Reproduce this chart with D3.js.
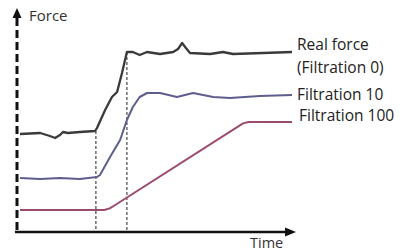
<!DOCTYPE html>
<html>
<head>
<meta charset="utf-8">
<script src="https://cdn.jsdelivr.net/npm/d3@7"></script>
<style>
  body { margin: 0; background: #fff; }
  svg { display: block; font-family: "Open Sans", sans-serif; }
</style>
</head>
<body>
<svg id="chart" width="400" height="252"></svg>
<script>
// values, time 0..100, force 0..100 (arbitrary units)
var realTime  = [0, 7.4, 11, 12.9, 14.7, 15.8, 17.6, 22, 27.6, 28.3, 31.3, 33.8, 35.7, 37.5, 39.3, 41.5, 44, 46.7, 51.5, 56.3, 58.1, 59.6, 61, 62.5, 69.9, 74.6, 78.3, 89.3, 100];
var realForce = [49, 49.5, 48, 47, 48.5, 50, 49.5, 50, 50.5, 52, 61, 67.5, 70, 79.5, 90, 90, 88.5, 90, 89, 90, 91.5, 94.5, 92, 89.5, 89, 90, 89, 89.5, 90];

var filt10Time  = [0, 7.4, 14.7, 22, 28.3, 29.4, 33.1, 36.8, 39.3, 41.5, 44, 46.7, 51.5, 57.7, 63.6, 71, 77.2, 88.2, 100];
var filt10Force = [27, 26.5, 27, 26.5, 27.5, 28.5, 37.5, 46, 56, 62.5, 67.5, 69.5, 69.5, 67.5, 69.5, 67.5, 67, 68, 68.5];

var filt100Time  = [0, 31, 33, 35, 82, 84, 100];
var filt100Force = [11, 11, 11.8, 13.5, 54.3, 55, 55];

var markerTimes = [27.9, 39.3];

// label lines and their baselines
var labelText = ["Real force", "(Filtration 0)", "Filtration 10", "Filtration 100"];
var labelBase = [50, 73, 100, 121];

var series = [
  { t: realTime, f: realForce, color: "#3a3a3a", w: 2.3 },
  { t: filt10Time, f: filt10Force, color: "#5e5e8e", w: 2 },
  { t: filt100Time, f: filt100Force, color: "#9b4a70", w: 2 }
];

var svg = d3.select("#chart");

var x = d3.scaleLinear().domain([0, 100]).range([20, 292]);
var y = d3.scaleLinear().domain([0, 100]).range([232, 32]);

// dashed guide lines at the step starts
svg.selectAll(".guide")
  .data(markerTimes)
  .enter()
  .append("line")
  .attr("class", "guide")
  .attr("x1", function(d){ return x(d); })
  .attr("x2", function(d){ return x(d); })
  .attr("y1", function(d){
    return y(d3.max(realTime.map(function(t, i){ return t <= d + 0.01 ? realForce[i] : 0; })));
  })
  .attr("y2", 232)
  .attr("stroke", "#555")
  .attr("stroke-width", 1.3)
  .attr("stroke-dasharray", "3,2");

var line = d3.line()
  .x(function(d){ return x(d[0]); })
  .y(function(d){ return y(d[1]); });

svg.selectAll(".series")
  .data(series)
  .enter()
  .append("path")
  .attr("class", "series")
  .attr("d", function(s){ return line(d3.zip(s.t, s.f)); })
  .attr("fill", "none")
  .attr("stroke", function(s){ return s.color; })
  .attr("stroke-width", function(s){ return s.w; })
  .attr("stroke-linejoin", "round");

// y axis: thick dashed line with arrow
svg.append("line")
  .attr("x1", 17).attr("x2", 17)
  .attr("y1", 18).attr("y2", 232)
  .attr("stroke", "#111")
  .attr("stroke-width", 3)
  .attr("stroke-dasharray", "8,4");
svg.append("path")
  .attr("d", "M17,8 L12.5,18 L21.5,18 Z")
  .attr("fill", "#111");

// x axis: solid line with arrow
svg.append("line")
  .attr("x1", 15).attr("x2", 288)
  .attr("y1", 232).attr("y2", 232)
  .attr("stroke", "#111")
  .attr("stroke-width", 2.5);
svg.append("path")
  .attr("d", "M296,232 L285,227.5 L285,236.5 Z")
  .attr("fill", "#111");

svg.append("text")
  .attr("x", 29).attr("y", 21)
  .attr("font-size", 15)
  .attr("fill", "#333")
  .text("Force");

svg.append("text")
  .attr("x", 250).attr("y", 248)
  .attr("font-size", 14.5)
  .attr("fill", "#333")
  .text("Time");

svg.selectAll(".lab")
  .data(labelText)
  .enter()
  .append("text")
  .attr("class", "lab")
  .attr("x", function(d, i){ return i == 3 ? 299 : 297; })
  .attr("y", function(d, i){ return labelBase[i]; })
  .attr("font-size", 15.5)
  .attr("fill", "#222")
  .text(function(d){ return d; });
</script>
</body>
</html>
